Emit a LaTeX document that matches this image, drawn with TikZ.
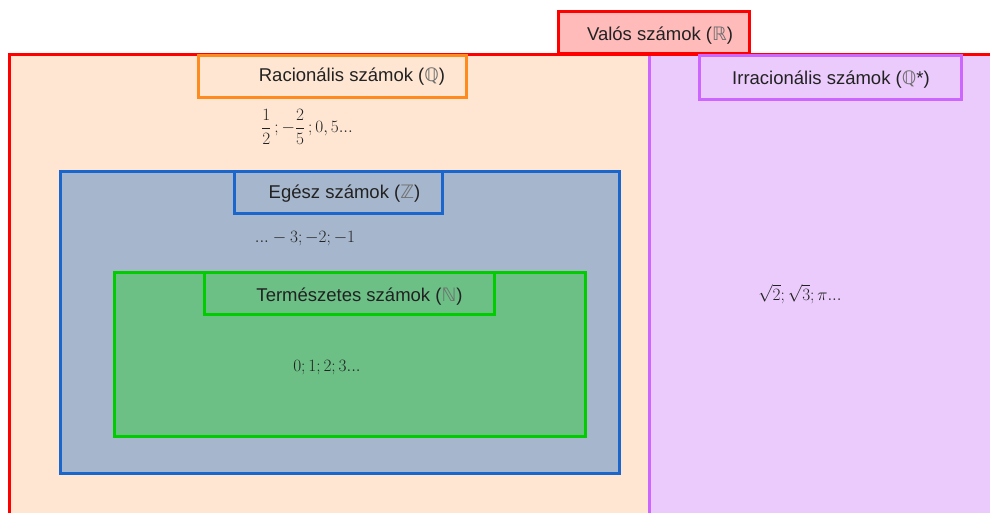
\documentclass[tikz,border=0pt]{standalone}
\usepackage{amssymb}
\usepackage{fontspec}
\setmainfont{Liberation Sans}
\newfontfamily\dejavu{DejaVu Sans}
\definecolor{bgorange}{HTML}{FEE6D2}
\definecolor{bgpurple}{HTML}{EBCBFC}
\definecolor{bgblue}{HTML}{A6B6CC}
\definecolor{bggreen}{HTML}{6CC086}
\definecolor{bgpink}{HTML}{FFBABA}
\definecolor{lred}{HTML}{FF0000}
\definecolor{lorange}{HTML}{FF8A1E}
\definecolor{lpurple}{HTML}{CC66FF}
\definecolor{lblue}{HTML}{1A66CC}
\definecolor{lgreen}{HTML}{00CC00}
\definecolor{txt}{HTML}{222222}
\definecolor{bbgray}{HTML}{707070}
\newcommand{\bbl}[1]{\textcolor{bbgray}{\dejavu #1}}
\tikzset{
  labelbox/.style={draw, line width=3pt, inner sep=0pt, anchor=center},
  labeltext/.style={text=txt, font=\fontsize{18.5}{20}\selectfont, inner sep=0pt, anchor=center},
  mathtext/.style={text=txt, font=\fontsize{16}{18}\selectfont, inner sep=0pt, anchor=center},
}
\begin{document}
\begin{tikzpicture}[x=1pt,y=-1pt]
\useasboundingbox (0,0) rectangle (990,513);
% regions
\fill[bgorange] (9,55) rectangle (649,530);
\fill[bgpurple] (649,55) rectangle (1000,530);
\draw[lpurple, line width=3pt] (649,56) -- (649,530);
\draw[lred, line width=3pt] (9,530) -- (9,55) -- (1000,55);
% real
\node[labelbox, draw=lred, fill=bgpink, minimum width=191pt, minimum height=42pt] (realbox) at (653.5,33) {};
\node[labeltext] (realtxt) at (660,36) {Valós számok (\bbl{ℝ})};
% rational
\node[labelbox, draw=lorange, minimum width=268pt, minimum height=42pt] (ratbox) at (332,77) {};
\node[labeltext] (rattxt) at (352,77) {Racionális számok (\bbl{ℚ})};
\node[mathtext] (ratex) at (307,127) {$\displaystyle\frac{1}{2}\,;-\frac{2}{5}\,;0,5...$};
% irrational
\node[labelbox, draw=lpurple, minimum width=262pt, minimum height=44pt] (irrbox) at (830,78) {};
\node[labeltext] (irrtxt) at (831,80) {Irracionális számok (\bbl{ℚ}*)};
\node[mathtext] (irrex) at (800,294) {$\sqrt{2};\sqrt{3};\pi...$};
% integers
\node[draw=lblue, fill=bgblue, line width=3pt, minimum width=559pt, minimum height=301pt, inner sep=0pt] (intreg) at (339.5,322.5) {};
\node[labelbox, draw=lblue, minimum width=208pt, minimum height=41pt] (intbox) at (338,192.5) {};
\node[labeltext] (inttxt) at (344.5,194) {Egész számok (\bbl{ℤ})};
\node[mathtext] (intex) at (305,239) {$...-3;-2;-1$};
% naturals
\node[draw=lgreen, fill=bggreen, line width=3pt, minimum width=471pt, minimum height=164pt, inner sep=0pt] (natreg) at (349.5,354) {};
\node[labelbox, draw=lgreen, minimum width=290pt, minimum height=42pt] (natbox) at (349,293) {};
\node[labeltext] (nattxt) at (359.5,297) {Természetes számok (\bbl{ℕ})};
\node[mathtext] (natex) at (327,368) {$0;1;2;3...$};
\end{tikzpicture}
\end{document}
